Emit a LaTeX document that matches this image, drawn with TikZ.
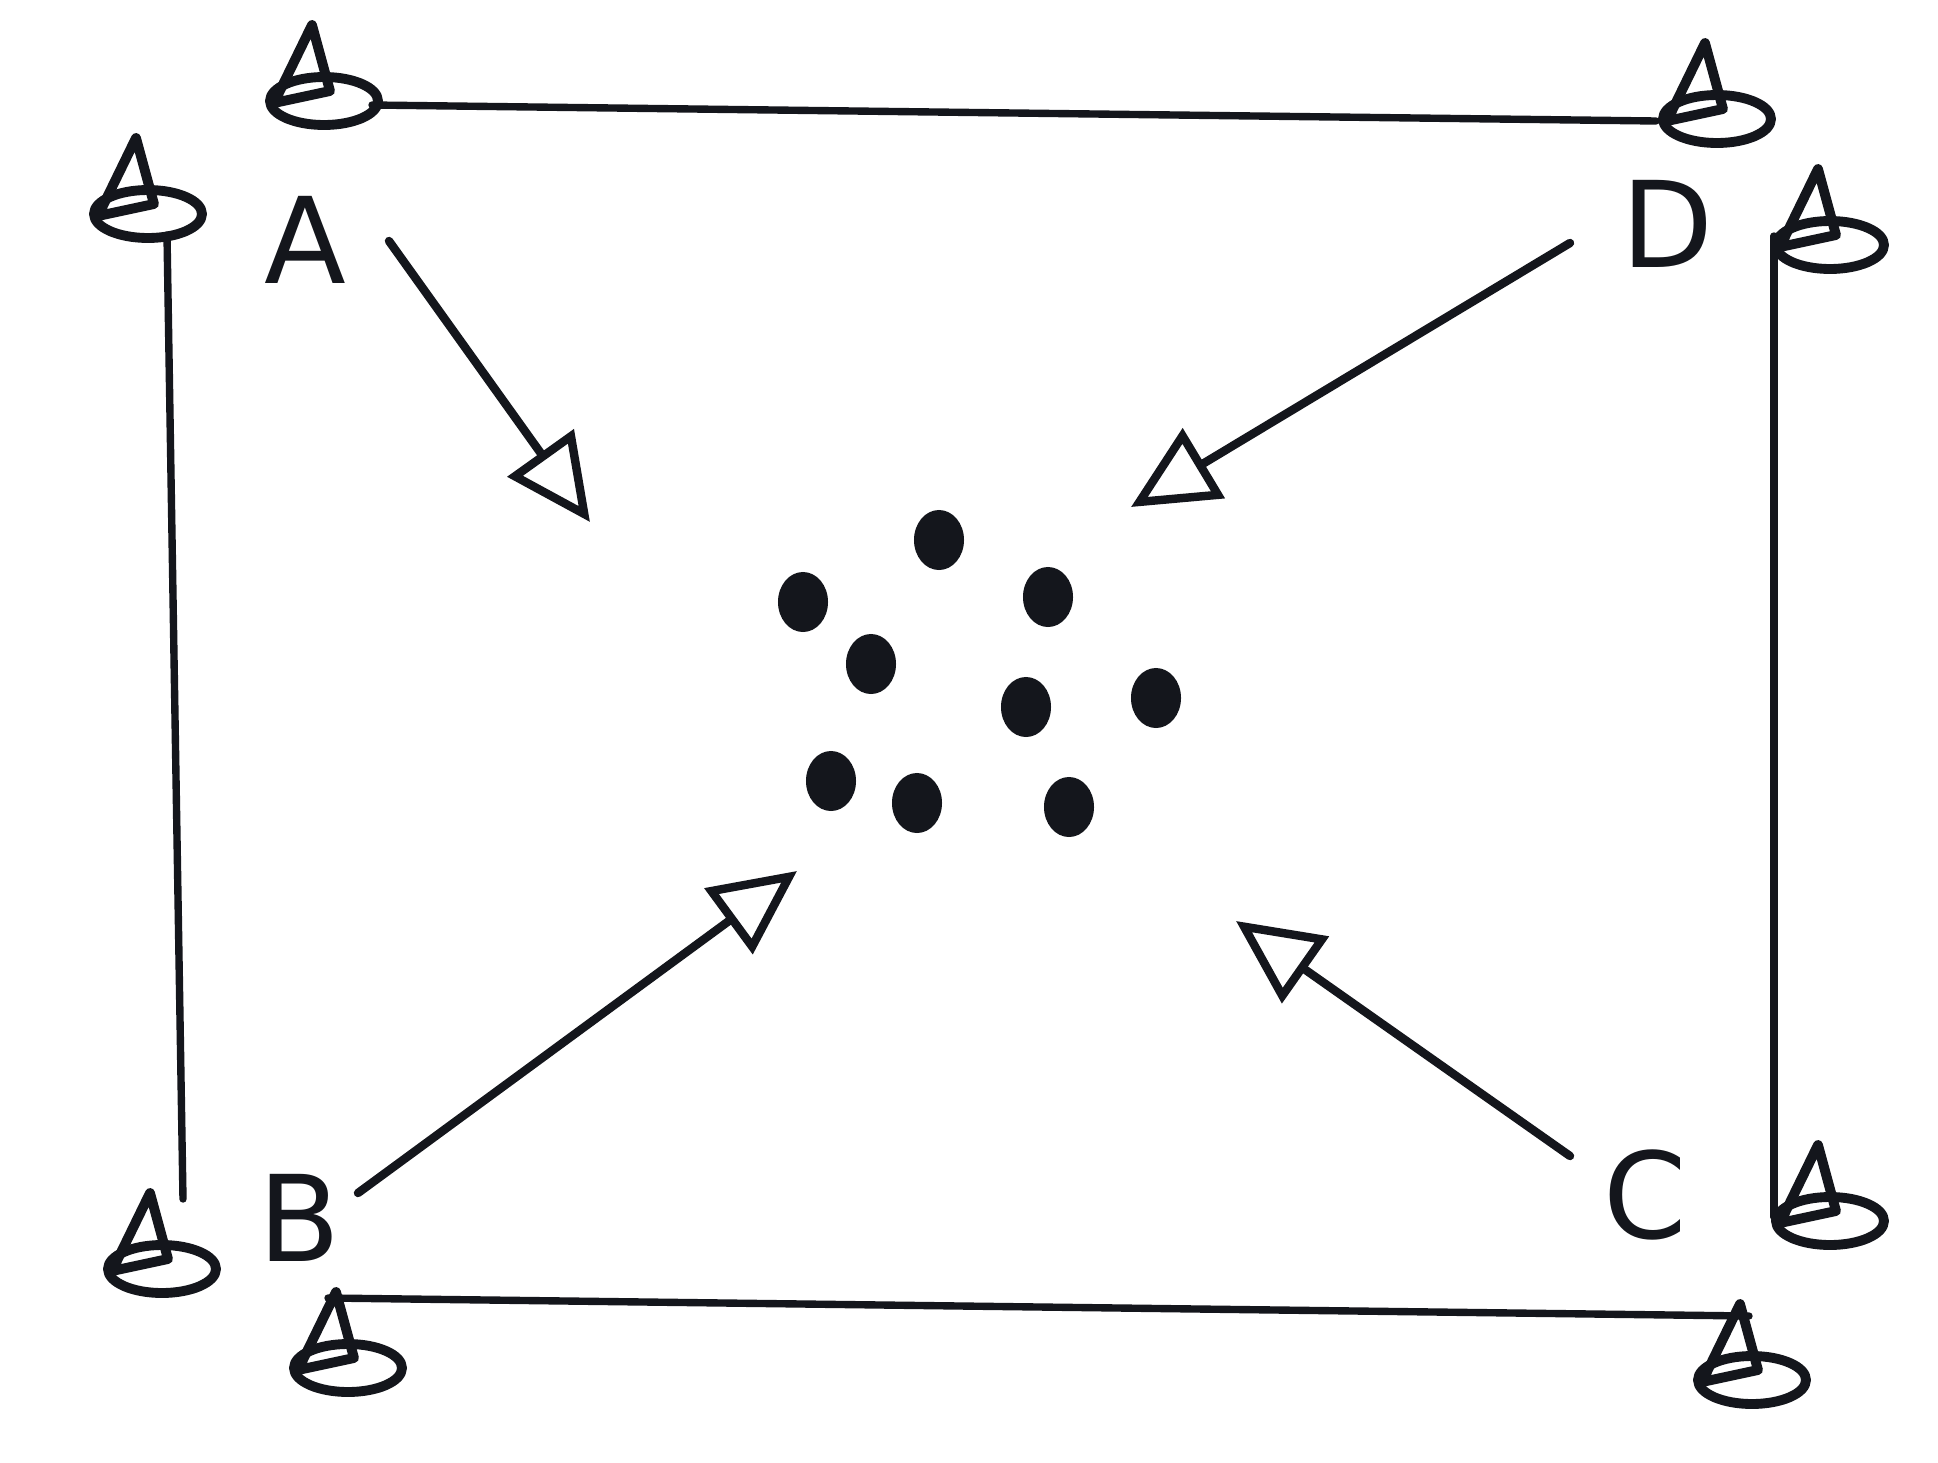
\documentclass[tikz,border=0pt]{standalone}
\usepackage{fontspec}
\setmainfont{DejaVu Sans}
\usetikzlibrary{arrows.meta,shapes.geometric}
\definecolor{ink}{RGB}{20,22,28}
\tikzset{
  ink line/.style={draw=ink, line width=2.1pt, line cap=round, line join=round},
  flowarrow/.style={ink line, line width=2.4pt, -{Triangle[open, length=0.85cm, width=0.8cm, line width=2.4pt]}},
  dotnode/.style={ellipse, fill=ink, inner sep=0pt, minimum width=0.5cm, minimum height=0.6cm},
  lbl/.style={font=\fontsize{34}{38}\selectfont, text=ink, inner sep=0pt},
  spk/.pic={
    \draw[draw=ink, line width=2.8pt, line join=round] (12,2) ellipse [x radius=54, y radius=24];
    \draw[draw=ink, line width=2.8pt, line join=round] (-38,4) -- (0,-74) -- (18,-8) -- cycle;
  }
}
\begin{document}
\begin{tikzpicture}[x=0.01cm, y=-0.01cm]
\useasboundingbox (0,0) rectangle (1938,1463);
\fill[white] (0,0) rectangle (1938,1463);
% speakers
\coordinate (s1) at (312,99);
\coordinate (s2) at (1705,117);
\coordinate (s3) at (136,212);
\coordinate (s4) at (1818,243);
\coordinate (s5) at (150,1267);
\coordinate (s6) at (1818,1219);
\coordinate (s7) at (336,1366);
\coordinate (s8) at (1740,1378);
\foreach \s in {s1,s2,s3,s4,s5,s6,s7,s8} {\pic at (\s) {spk};}
% frame lines
\coordinate (t1) at (372,105);
\coordinate (t2) at (1656,121);
\coordinate (b1) at (328,1298);
\coordinate (b2) at (1749,1316);
\coordinate (l1) at (167,235);
\coordinate (l2) at (183,1199);
\coordinate (r1) at (1774,236);
\coordinate (r2) at (1774,1217);
\draw[ink line] (t1) -- (t2);
\draw[ink line] (b1) -- (b2);
\draw[ink line] (l1) -- (l2);
\draw[ink line] (r1) -- (r2);
% labels
\node[lbl] (A) at (305,240) {A};
\node[lbl] (D) at (1668,224) {D};
\node[lbl] (B) at (300,1218) {B};
\node[lbl] (C) at (1645,1195) {C};
% dots
\node[dotnode] (d1) at (939,540) {};
\node[dotnode] (d2) at (803,602) {};
\node[dotnode] (d3) at (1048,597) {};
\node[dotnode] (d4) at (871,664) {};
\node[dotnode] (d5) at (1026,707) {};
\node[dotnode] (d6) at (1156,698) {};
\node[dotnode] (d7) at (831,781) {};
\node[dotnode] (d8) at (917,803) {};
\node[dotnode] (d9) at (1069,807) {};
% arrows
\coordinate (aS) at (389,241);
\coordinate (aT) at (590,522);
\coordinate (dS) at (1570,243);
\coordinate (dT) at (1131,507);
\coordinate (bS) at (358,1193);
\coordinate (bT) at (797,871);
\coordinate (cS) at (1570,1156);
\coordinate (cT) at (1236,921);
\draw[flowarrow] (aS) -- (aT);
\draw[flowarrow] (dS) -- (dT);
\draw[flowarrow] (bS) -- (bT);
\draw[flowarrow] (cS) -- (cT);
\end{tikzpicture}
\end{document}
